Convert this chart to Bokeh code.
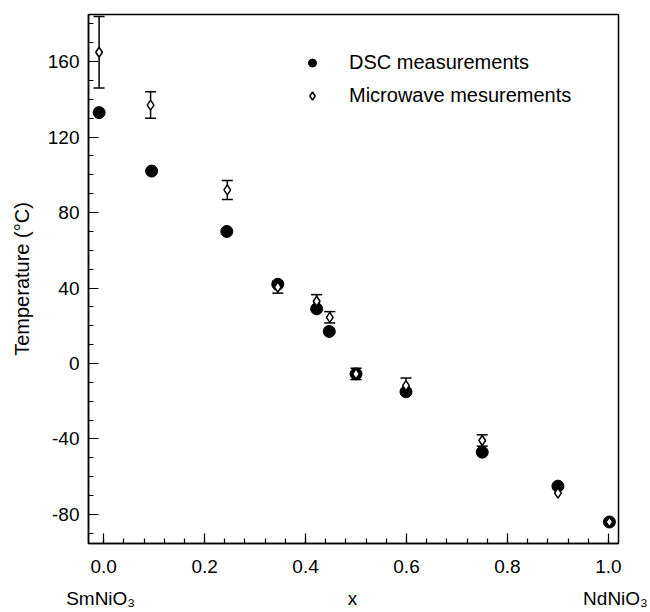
from bokeh.plotting import figure
from bokeh.models import (Range1d, SingleIntervalTicker, PrintfTickFormatter, Whisker,
                          TeeHead, ColumnDataSource, Legend, LegendItem, LinearAxis,
                          FixedTicker)
from bokeh.embed import file_html
from bokeh.resources import INLINE

# ---- data ----
dsc_x = [-0.009, 0.095, 0.244, 0.345, 0.422, 0.447, 0.500, 0.599, 0.750, 0.900, 1.002]
dsc_t = [133, 102, 70, 42, 29, 17, -5.5, -15, -47, -65, -84]

mw_x = [-0.009, 0.093, 0.245, 0.345, 0.422, 0.448, 0.500, 0.599, 0.750, 0.900, 1.002]
mw_t = [165, 137, 92, 40.5, 33, 24.5, -5.5, -11.7, -40.8, -68.7, -84]
mw_err = [19, 7, 5, 3.2, 3.5, 3, 3, 4, 3, 0, 0]

series_names = ["DSC measurements", "Microwave mesurements"]
row_labels = ["SmNiO\u2083", "x", "NdNiO\u2083"]
row_label_x = [-0.006, 0.493, 1.014]
y_title = "Temperature (\u00b0C)"

FONT = "Liberation Sans"

p = figure(width=650, height=612, output_backend="svg", toolbar_location=None,
           x_range=Range1d(-0.03, 1.02), y_range=Range1d(-95.4, 185),
           min_border_left=88, min_border_right=32, min_border_top=14, min_border_bottom=69)

p.grid.visible = False
p.background_fill_color = "white"
p.border_fill_color = "white"
p.outline_line_color = "black"
p.outline_line_width = 1.5

# axes
p.xaxis.ticker = SingleIntervalTicker(interval=0.2, num_minor_ticks=5)
p.yaxis.ticker = SingleIntervalTicker(interval=40, num_minor_ticks=4)
p.xaxis.formatter = PrintfTickFormatter(format="%.1f")
p.yaxis.formatter = PrintfTickFormatter(format="%d")
for ax in (p.xaxis, p.yaxis):
    ax.axis_line_color = "black"
    ax.axis_line_width = 1.5
    ax.major_tick_line_color = "black"
    ax.minor_tick_line_color = "black"
    ax.major_tick_line_width = 1.2
    ax.minor_tick_line_width = 1.2
    ax.major_tick_in = 10
    ax.major_tick_out = 0
    ax.minor_tick_in = 5
    ax.minor_tick_out = 0
    ax.major_label_text_font = FONT
    ax.major_label_text_font_size = "19px"
    ax.major_label_text_color = "black"
    ax.axis_label_text_font = FONT
    ax.axis_label_text_font_size = "20px"
    ax.axis_label_text_font_style = "normal"
    ax.axis_label_text_color = "black"

p.xaxis.major_label_standoff = 16
p.yaxis.major_label_standoff = 9
p.yaxis.axis_label = y_title
p.yaxis.axis_label_standoff = 12

# second row of labels below the x axis (compound names and the x title)
row_axis = LinearAxis(ticker=FixedTicker(ticks=row_label_x),
                      major_label_overrides={v: t for v, t in zip(row_label_x, row_labels)})
row_axis.axis_line_color = None
row_axis.major_tick_line_color = None
row_axis.minor_tick_line_color = None
row_axis.major_tick_in = 0
row_axis.major_tick_out = 0
row_axis.major_label_standoff = 12
row_axis.major_label_text_font = FONT
row_axis.major_label_text_font_size = "19px"
row_axis.major_label_text_color = "black"
p.add_layout(row_axis, "below")

# DSC filled circles
r_dsc = p.scatter(dsc_x, dsc_t, marker="circle", size=12, fill_color="black",
                  line_color="black")

# error bars of microwave data
keep = [i for i, e in enumerate(mw_err) if e > 0]
err_src = ColumnDataSource(dict(
    x=[mw_x[i] for i in keep],
    upper=[mw_t[i] + mw_err[i] for i in keep],
    lower=[mw_t[i] - mw_err[i] for i in keep],
))
whisk = Whisker(base="x", upper="upper", lower="lower", source=err_src,
                line_color="black", line_width=1.5,
                upper_head=TeeHead(size=11, line_color="black", line_width=1.5),
                lower_head=TeeHead(size=11, line_color="black", line_width=1.5))
p.add_layout(whisk)

# microwave open diamonds
r_mw = p.scatter(mw_x, mw_t, marker="diamond", size=10, fill_color="white",
                 line_color="black", line_width=1.5)

legend = Legend(items=[LegendItem(label=series_names[0], renderers=[r_dsc]),
                       LegendItem(label=series_names[1], renderers=[r_mw])],
                location=(214, 436))
legend.label_text_font = FONT
legend.label_text_font_size = "20px"
legend.label_text_color = "black"
legend.glyph_width = 20
legend.glyph_height = 23
legend.label_height = 23
legend.label_standoff = 27
legend.spacing = 10
legend.padding = 10
legend.margin = 0
legend.border_line_color = None
legend.background_fill_alpha = 0
p.add_layout(legend)

open("out.html", "w").write(file_html(p, INLINE))
